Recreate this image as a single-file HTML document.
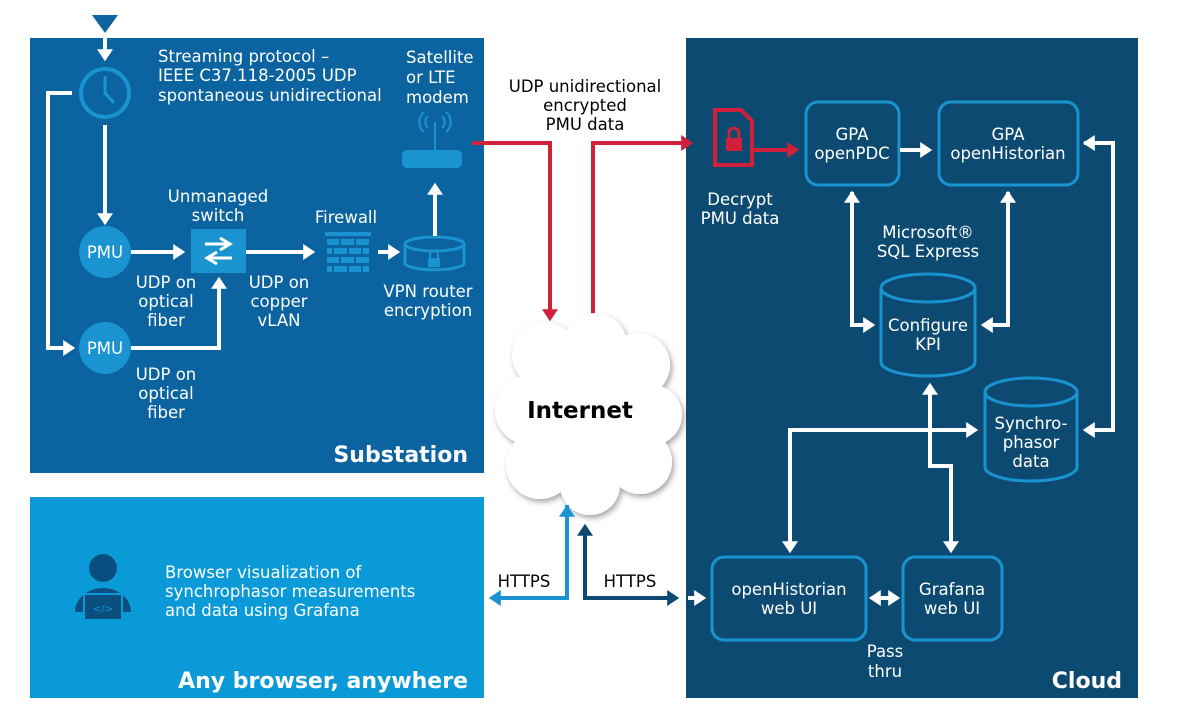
<!DOCTYPE html>
<html><head><meta charset="utf-8"><style>
html,body{margin:0;padding:0;background:#fff}
svg{display:block}
text{font-family:"DejaVu Sans","Liberation Sans",sans-serif;fill:#fff;font-size:16.5px}
text.b{font-size:22px;font-weight:bold}
text.i{font-size:23px}
text.k{fill:#000}
</style></head><body>
<svg width="1192" height="712" viewBox="0 0 1192 712" xmlns="http://www.w3.org/2000/svg">
<defs>
<marker id="aw" markerWidth="4" markerHeight="4" refX="2.2" refY="2" orient="auto" markerUnits="strokeWidth"><path d="M0,0 L3,2 L0,4 Z" fill="#fff"/></marker>
<marker id="ar" markerWidth="4" markerHeight="4" refX="2.2" refY="2" orient="auto" markerUnits="strokeWidth"><path d="M0,0 L3,2 L0,4 Z" fill="#d0213a"/></marker>
<marker id="al" markerWidth="4" markerHeight="4" refX="2.2" refY="2" orient="auto" markerUnits="strokeWidth"><path d="M0,0 L3,2 L0,4 Z" fill="#1a94d0"/></marker>
<marker id="ad" markerWidth="4" markerHeight="4" refX="2.2" refY="2" orient="auto" markerUnits="strokeWidth"><path d="M0,0 L3,2 L0,4 Z" fill="#0d4a72"/></marker>
<filter id="sh" x="-20%" y="-20%" width="140%" height="140%"><feDropShadow dx="2" dy="3" stdDeviation="3" flood-color="#000" flood-opacity="0.35"/></filter>
</defs>
<rect x="30" y="38" width="454" height="435" fill="#0b63a0"/>
<rect x="686" y="38" width="452" height="660" fill="#0d4a72"/>
<rect x="30" y="497" width="454" height="201" fill="#0a9ad8"/>

<path d="M92,15 L118,15 L105,33 Z" fill="#0b63a0"/>
<line x1="105" y1="33" x2="105" y2="58" stroke="#fff" stroke-width="4" marker-end="url(#aw)"/>
<circle cx="105" cy="93" r="24" fill="none" stroke="#1a94d0" stroke-width="4"/>
<path d="M105,76 L105,93 L114,103" fill="none" stroke="#1a94d0" stroke-width="3"/>
<line x1="105" y1="125" x2="105" y2="222" stroke="#fff" stroke-width="4" marker-end="url(#aw)"/>
<path d="M72,93 L48,93 L48,348 L72,348" fill="none" stroke="#fff" stroke-width="4" marker-end="url(#aw)"/>
<circle cx="105" cy="252" r="26" fill="#1a94d0"/><text x="105" y="258" text-anchor="middle">PMU</text>
<circle cx="105" cy="348" r="26" fill="#1a94d0"/><text x="105" y="354" text-anchor="middle">PMU</text>
<line x1="131" y1="252" x2="182" y2="252" stroke="#fff" stroke-width="4" marker-end="url(#aw)"/>
<path d="M131,348 L219,348 L219,280" fill="none" stroke="#fff" stroke-width="4" marker-end="url(#aw)"/>
<rect x="191" y="229" width="55" height="44" fill="#1a94d0"/>
<path d="M205,244 L228,244 M220,238 L230,244 L220,250 M232,258 L209,258 M217,252 L207,258 L217,264" stroke="#fff" stroke-width="3" fill="none"/>
<line x1="246" y1="252" x2="312" y2="252" stroke="#fff" stroke-width="4" marker-end="url(#aw)"/>
<g fill="#1a94d0"><rect x="325" y="232" width="46" height="4"/>
<rect x="327" y="239" width="42" height="6"/><rect x="327" y="248" width="42" height="6"/><rect x="327" y="257" width="42" height="6"/><rect x="327" y="266" width="42" height="6"/></g>
<g stroke="#0b63a0" stroke-width="2"><line x1="340" y1="239" x2="340" y2="245"/><line x1="355" y1="239" x2="355" y2="245"/><line x1="333" y1="248" x2="333" y2="254"/><line x1="348" y1="248" x2="348" y2="254"/><line x1="362" y1="248" x2="362" y2="254"/><line x1="340" y1="257" x2="340" y2="263"/><line x1="355" y1="257" x2="355" y2="263"/><line x1="333" y1="266" x2="333" y2="272"/><line x1="348" y1="266" x2="348" y2="272"/><line x1="362" y1="266" x2="362" y2="272"/></g>
<line x1="378" y1="252" x2="397" y2="252" stroke="#fff" stroke-width="4" marker-end="url(#aw)"/>
<path d="M405,244 L405,264 A30,7 0 0 0 464,264 L464,244" fill="none" stroke="#1a94d0" stroke-width="3"/>
<ellipse cx="434.5" cy="244" rx="29.5" ry="7" fill="none" stroke="#1a94d0" stroke-width="3"/>
<rect x="428" y="258" width="12" height="9" fill="#1a94d0"/><path d="M430,258 v-3 a4,4 0 0 1 8,0 v3" fill="none" stroke="#1a94d0" stroke-width="2"/>
<line x1="435" y1="236" x2="435" y2="186" stroke="#fff" stroke-width="4" marker-end="url(#aw)"/>
<rect x="402" y="150" width="60" height="18" rx="5" fill="#1a94d0"/>
<line x1="435" y1="150" x2="435" y2="122" stroke="#1a94d0" stroke-width="2"/>
<path d="M428,128 a8,8 0 0 1 0,-12 M424,132 a13,13 0 0 1 0,-20 M442,128 a8,8 0 0 0 0,-12 M446,132 a13,13 0 0 0 0,-20" fill="none" stroke="#1a94d0" stroke-width="2"/>
<text x="158" y="62">Streaming protocol –</text>
<text x="158" y="81">IEEE C37.118-2005 UDP</text>
<text x="158" y="101">spontaneous unidirectional</text>
<text x="406" y="63">Satellite</text><text x="406" y="83">or LTE</text><text x="406" y="103">modem</text>
<text x="218" y="202" text-anchor="middle">Unmanaged</text><text x="218" y="221" text-anchor="middle">switch</text>
<text x="346" y="223" text-anchor="middle">Firewall</text>
<text x="166" y="288" text-anchor="middle">UDP on</text><text x="166" y="307" text-anchor="middle">optical</text><text x="166" y="326" text-anchor="middle">fiber</text>
<text x="279" y="288" text-anchor="middle">UDP on</text><text x="279" y="307" text-anchor="middle">copper</text><text x="279" y="326" text-anchor="middle">vLAN</text>
<text x="428" y="297" text-anchor="middle">VPN router</text><text x="428" y="316" text-anchor="middle">encryption</text>
<text x="166" y="380" text-anchor="middle">UDP on</text><text x="166" y="399" text-anchor="middle">optical</text><text x="166" y="418" text-anchor="middle">fiber</text>
<text class="b" x="468" y="462" text-anchor="end">Substation</text>

<path d="M472,143 L550,143 L550,318" fill="none" stroke="#d0213a" stroke-width="4" marker-end="url(#ar)"/>
<path d="M593,322 L593,143 L690,143" fill="none" stroke="#d0213a" stroke-width="4" marker-end="url(#ar)"/>
<text class="k" x="585" y="92" text-anchor="middle">UDP unidirectional</text>
<text class="k" x="585" y="111" text-anchor="middle">encrypted</text>
<text class="k" x="585" y="130" text-anchor="middle">PMU data</text>

<g fill="#fff" filter="url(#sh)">
<circle cx="545" cy="355" r="33"/><circle cx="595" cy="345" r="32"/><circle cx="638" cy="365" r="32"/>
<circle cx="530" cy="410" r="35"/><circle cx="652" cy="415" r="30"/>
<circle cx="540" cy="465" r="34"/><circle cx="590" cy="485" r="30"/><circle cx="640" cy="462" r="32"/>
<ellipse cx="590" cy="415" rx="70" ry="75"/>
</g>
<text class="b k i" x="580" y="418" text-anchor="middle">Internet</text>

<path d="M567,505 L567,598 L492,598" fill="none" stroke="#1a94d0" stroke-width="4" marker-end="url(#al)"/>
<path d="M567,560 L567,508" fill="none" stroke="#1a94d0" stroke-width="4" marker-end="url(#al)"/>
<path d="M585,530 L585,598 L676,598" fill="none" stroke="#0d4a72" stroke-width="4" marker-end="url(#ad)"/>
<path d="M585,560 L585,527" fill="none" stroke="#0d4a72" stroke-width="4" marker-end="url(#ad)"/>
<text class="k" x="524" y="587" text-anchor="middle">HTTPS</text>
<text class="k" x="630" y="587" text-anchor="middle">HTTPS</text>

<circle cx="103" cy="568" r="14" fill="#0b4f80"/>
<path d="M75,612 a28,24 0 0 1 56,0 Z" fill="#0b4f80"/>
<rect x="84" y="594" width="38" height="26" fill="#0b4f80" stroke="#0a9ad8" stroke-width="2"/>
<text x="103" y="612" text-anchor="middle" style="font-size:10px;fill:#0a9ad8">&lt;/&gt;</text>
<text x="165" y="578">Browser visualization of</text>
<text x="165" y="597">synchrophasor measurements</text>
<text x="165" y="616">and data using Grafana</text>
<text class="b" x="468" y="688" text-anchor="end">Any browser, anywhere</text>

<path d="M715,110 L741,110 L752,121 L752,165 L715,165 Z" fill="none" stroke="#d0213a" stroke-width="4"/>
<rect x="726" y="138" width="16" height="13" fill="#d0213a"/><path d="M729,138 v-5 a5,5 0 0 1 10,0 v5" fill="none" stroke="#d0213a" stroke-width="3"/>
<line x1="752" y1="150" x2="796" y2="150" stroke="#d0213a" stroke-width="4" marker-end="url(#ar)"/>
<text x="740" y="205" text-anchor="middle">Decrypt</text><text x="740" y="224" text-anchor="middle">PMU data</text>
<rect x="806" y="102" width="93" height="83" rx="12" fill="none" stroke="#1a94d0" stroke-width="3"/>
<text x="852" y="140" text-anchor="middle">GPA</text><text x="852" y="159" text-anchor="middle">openPDC</text>
<rect x="939" y="102" width="139" height="83" rx="12" fill="none" stroke="#1a94d0" stroke-width="3"/>
<text x="1008" y="140" text-anchor="middle">GPA</text><text x="1008" y="159" text-anchor="middle">openHistorian</text>
<line x1="900" y1="150" x2="929" y2="150" stroke="#fff" stroke-width="4" marker-end="url(#aw)"/>
<text x="928" y="238" text-anchor="middle">Microsoft®</text><text x="928" y="257" text-anchor="middle">SQL Express</text>
<path d="M881,288 L881,362 A47,14 0 0 0 975,362 L975,288" fill="#0d4a72" stroke="#1a94d0" stroke-width="3"/>
<ellipse cx="928" cy="288" rx="47" ry="14" fill="#0d4a72" stroke="#1a94d0" stroke-width="3"/>
<text x="928" y="331" text-anchor="middle">Configure</text><text x="928" y="350" text-anchor="middle">KPI</text>
<path d="M852,192 L852,325 L872,325" fill="none" stroke="#fff" stroke-width="4" marker-end="url(#aw)"/>
<path d="M852,250 L852,194" fill="none" stroke="#fff" stroke-width="4" marker-end="url(#aw)"/>
<path d="M1008,192 L1008,325 L984,325" fill="none" stroke="#fff" stroke-width="4" marker-end="url(#aw)"/>
<path d="M1008,250 L1008,194" fill="none" stroke="#fff" stroke-width="4" marker-end="url(#aw)"/>
<path d="M985,392 L985,467 A46,14 0 0 0 1077,467 L1077,392" fill="#0d4a72" stroke="#1a94d0" stroke-width="3"/>
<ellipse cx="1031" cy="392" rx="46" ry="14" fill="#0d4a72" stroke="#1a94d0" stroke-width="3"/>
<text x="1031" y="429" text-anchor="middle">Synchro-</text><text x="1031" y="448" text-anchor="middle">phasor</text><text x="1031" y="467" text-anchor="middle">data</text>
<path d="M1084,143 L1113,143 L1113,430 L1086,430" fill="none" stroke="#fff" stroke-width="4" marker-end="url(#aw)"/>
<path d="M1100,143 L1086,143" fill="none" stroke="#fff" stroke-width="4" marker-end="url(#aw)"/>
<path d="M790,548 L790,430 L975,430" fill="none" stroke="#fff" stroke-width="4" marker-end="url(#aw)"/>
<path d="M790,480 L790,550" fill="none" stroke="#fff" stroke-width="4" marker-end="url(#aw)"/>
<path d="M930,386 L930,466 L951,466 L951,550" fill="none" stroke="#fff" stroke-width="4" marker-end="url(#aw)"/>
<path d="M930,420 L930,386" fill="none" stroke="#fff" stroke-width="4" marker-end="url(#aw)"/>
<rect x="712" y="557" width="154" height="83" rx="12" fill="none" stroke="#1a94d0" stroke-width="3"/>
<text x="789" y="595" text-anchor="middle">openHistorian</text><text x="789" y="614" text-anchor="middle">web UI</text>
<rect x="903" y="557" width="99" height="83" rx="12" fill="none" stroke="#1a94d0" stroke-width="3"/>
<text x="952" y="595" text-anchor="middle">Grafana</text><text x="952" y="614" text-anchor="middle">web UI</text>
<line x1="872" y1="598" x2="897" y2="598" stroke="#fff" stroke-width="4" marker-end="url(#aw)"/>
<line x1="890" y1="598" x2="872" y2="598" stroke="#fff" stroke-width="4" marker-end="url(#aw)"/>
<line x1="688" y1="598" x2="703" y2="598" stroke="#fff" stroke-width="4" marker-end="url(#aw)"/>
<text x="885" y="657" text-anchor="middle">Pass</text><text x="885" y="677" text-anchor="middle">thru</text>
<text class="b" x="1122" y="688" text-anchor="end">Cloud</text>
</svg>
</body></html>
